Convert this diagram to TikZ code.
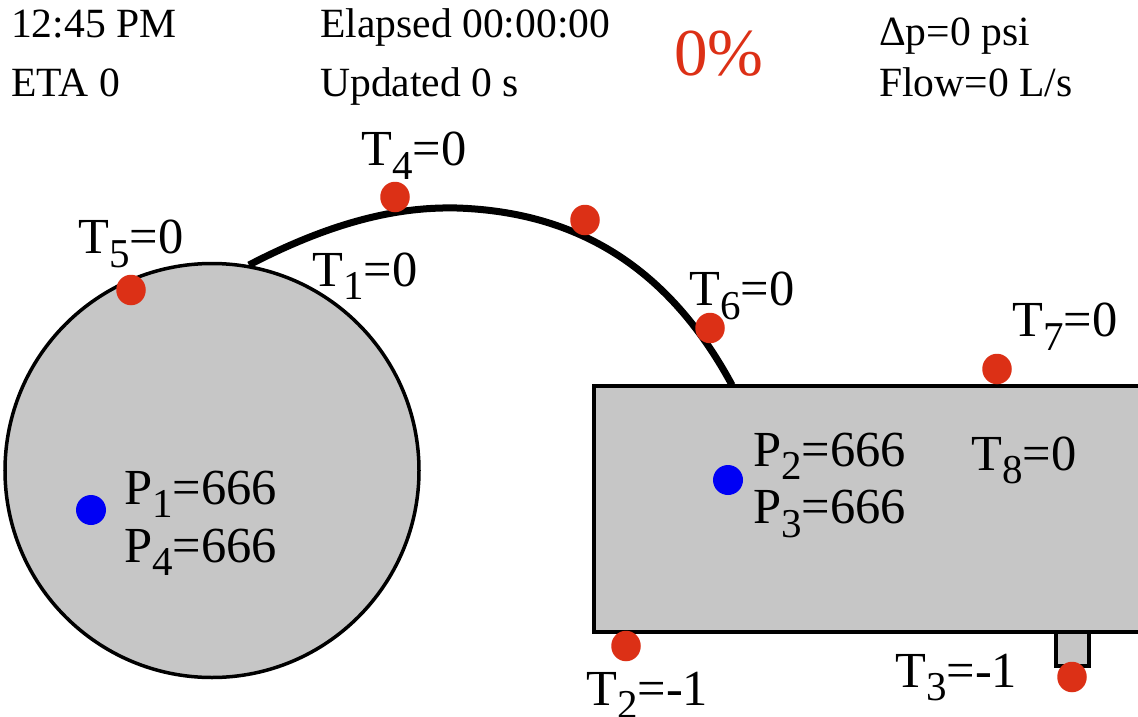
\documentclass[tikz,border=0pt]{standalone}
\usepackage{fontspec}
\setmainfont{Liberation Serif}
\usetikzlibrary{shapes.geometric}
\definecolor{fillg}{RGB}{198,198,198}
\definecolor{redd}{RGB}{220,48,22}
\definecolor{bluu}{RGB}{0,0,245}
\newcommand{\lowsub}[1]{\raisebox{-0.27em}{\fontsize{41}{41}\selectfont #1}}
\tikzset{x=1pt,y=-1pt,
 shapebox/.style={draw=black,line width=4pt,fill=fillg},
 circbox/.style={draw=black,line width=3.5pt,fill=fillg},
 reddot/.style={ellipse,fill=redd,minimum width=29.5pt,minimum height=30.5pt,inner sep=0pt},
 bluedot/.style={ellipse,fill=bluu,minimum width=30pt,minimum height=30pt,inner sep=0pt},
 small/.style={anchor=base west,inner sep=0pt,font=\fontsize{41.6}{41.6}\selectfont},
 big/.style={anchor=base west,inner sep=0pt,font=\fontsize{50.5}{50.5}\selectfont},
 pct/.style={anchor=base west,inner sep=0pt,text=redd,font=\fontsize{67}{67}\selectfont}}
\begin{document}
\begin{tikzpicture}
\useasboundingbox (0,0) rectangle (1138,717);
\fill[white] (0,0) rectangle (1138,717);
\draw[shapebox] (1056,631.5) rectangle (1089,666);
\draw[shapebox] (1142,385.5) -- (594,385.5) -- (594,631.5) -- (1142,631.5) -- cycle;
\draw[circbox] (212,470.5) circle (207);
\draw[black,line width=7pt] (249,265) .. controls (345,215) and (410,207) .. (457,208) .. controls (580,212) and (670,270) .. (732,385);
\node[small] (a) at (11,38) {12:45 PM};
\node[small] (b) at (11,96) {ETA 0};
\node[small] (c) at (320,38) {Elapsed 00:00:00};
\node[small] (d) at (320,96) {Updated 0 s};
\node[pct] (e) at (674,76) {0\%};
\node[small] (f) at (879,46) {Δp=0 psi};
\node[small] (g) at (879,96) {Flow=0 L/s};
\node[big] (t4) at (361,165.5) {T\lowsub{4}=0};
\node[big] (t5) at (78,253.5) {T\lowsub{5}=0};
\node[big] (t1) at (312,286) {T\lowsub{1}=0};
\node[big] (t6) at (689,305.5) {T\lowsub{6}=0};
\node[big] (t7) at (1012,336.5) {T\lowsub{7}=0};
\node[big] (t8) at (971,470) {T\lowsub{8}=0};
\node[big] (p2) at (753,466) {P\lowsub{2}=666};
\node[big] (p3) at (753,523.5) {P\lowsub{3}=666};
\node[big] (p1) at (124,504) {P\lowsub{1}=666};
\node[big] (p4) at (124,562) {P\lowsub{4}=666};
\node[big] (t2) at (586,705) {T\lowsub{2}=-1};
\node[big] (t3) at (895,687) {T\lowsub{3}=-1};
\node[reddot] (r1) at (395,197) {};
\node[reddot] (r2) at (585,220) {};
\node[reddot] (r3) at (131,290) {};
\node[reddot] (r4) at (710,328) {};
\node[reddot] (r5) at (997,369) {};
\node[reddot] (r6) at (626,646) {};
\node[reddot] (r7) at (1072,677) {};
\node[bluedot] (b1) at (91,510) {};
\node[bluedot] (b2) at (728,480) {};
\end{tikzpicture}
\end{document}
